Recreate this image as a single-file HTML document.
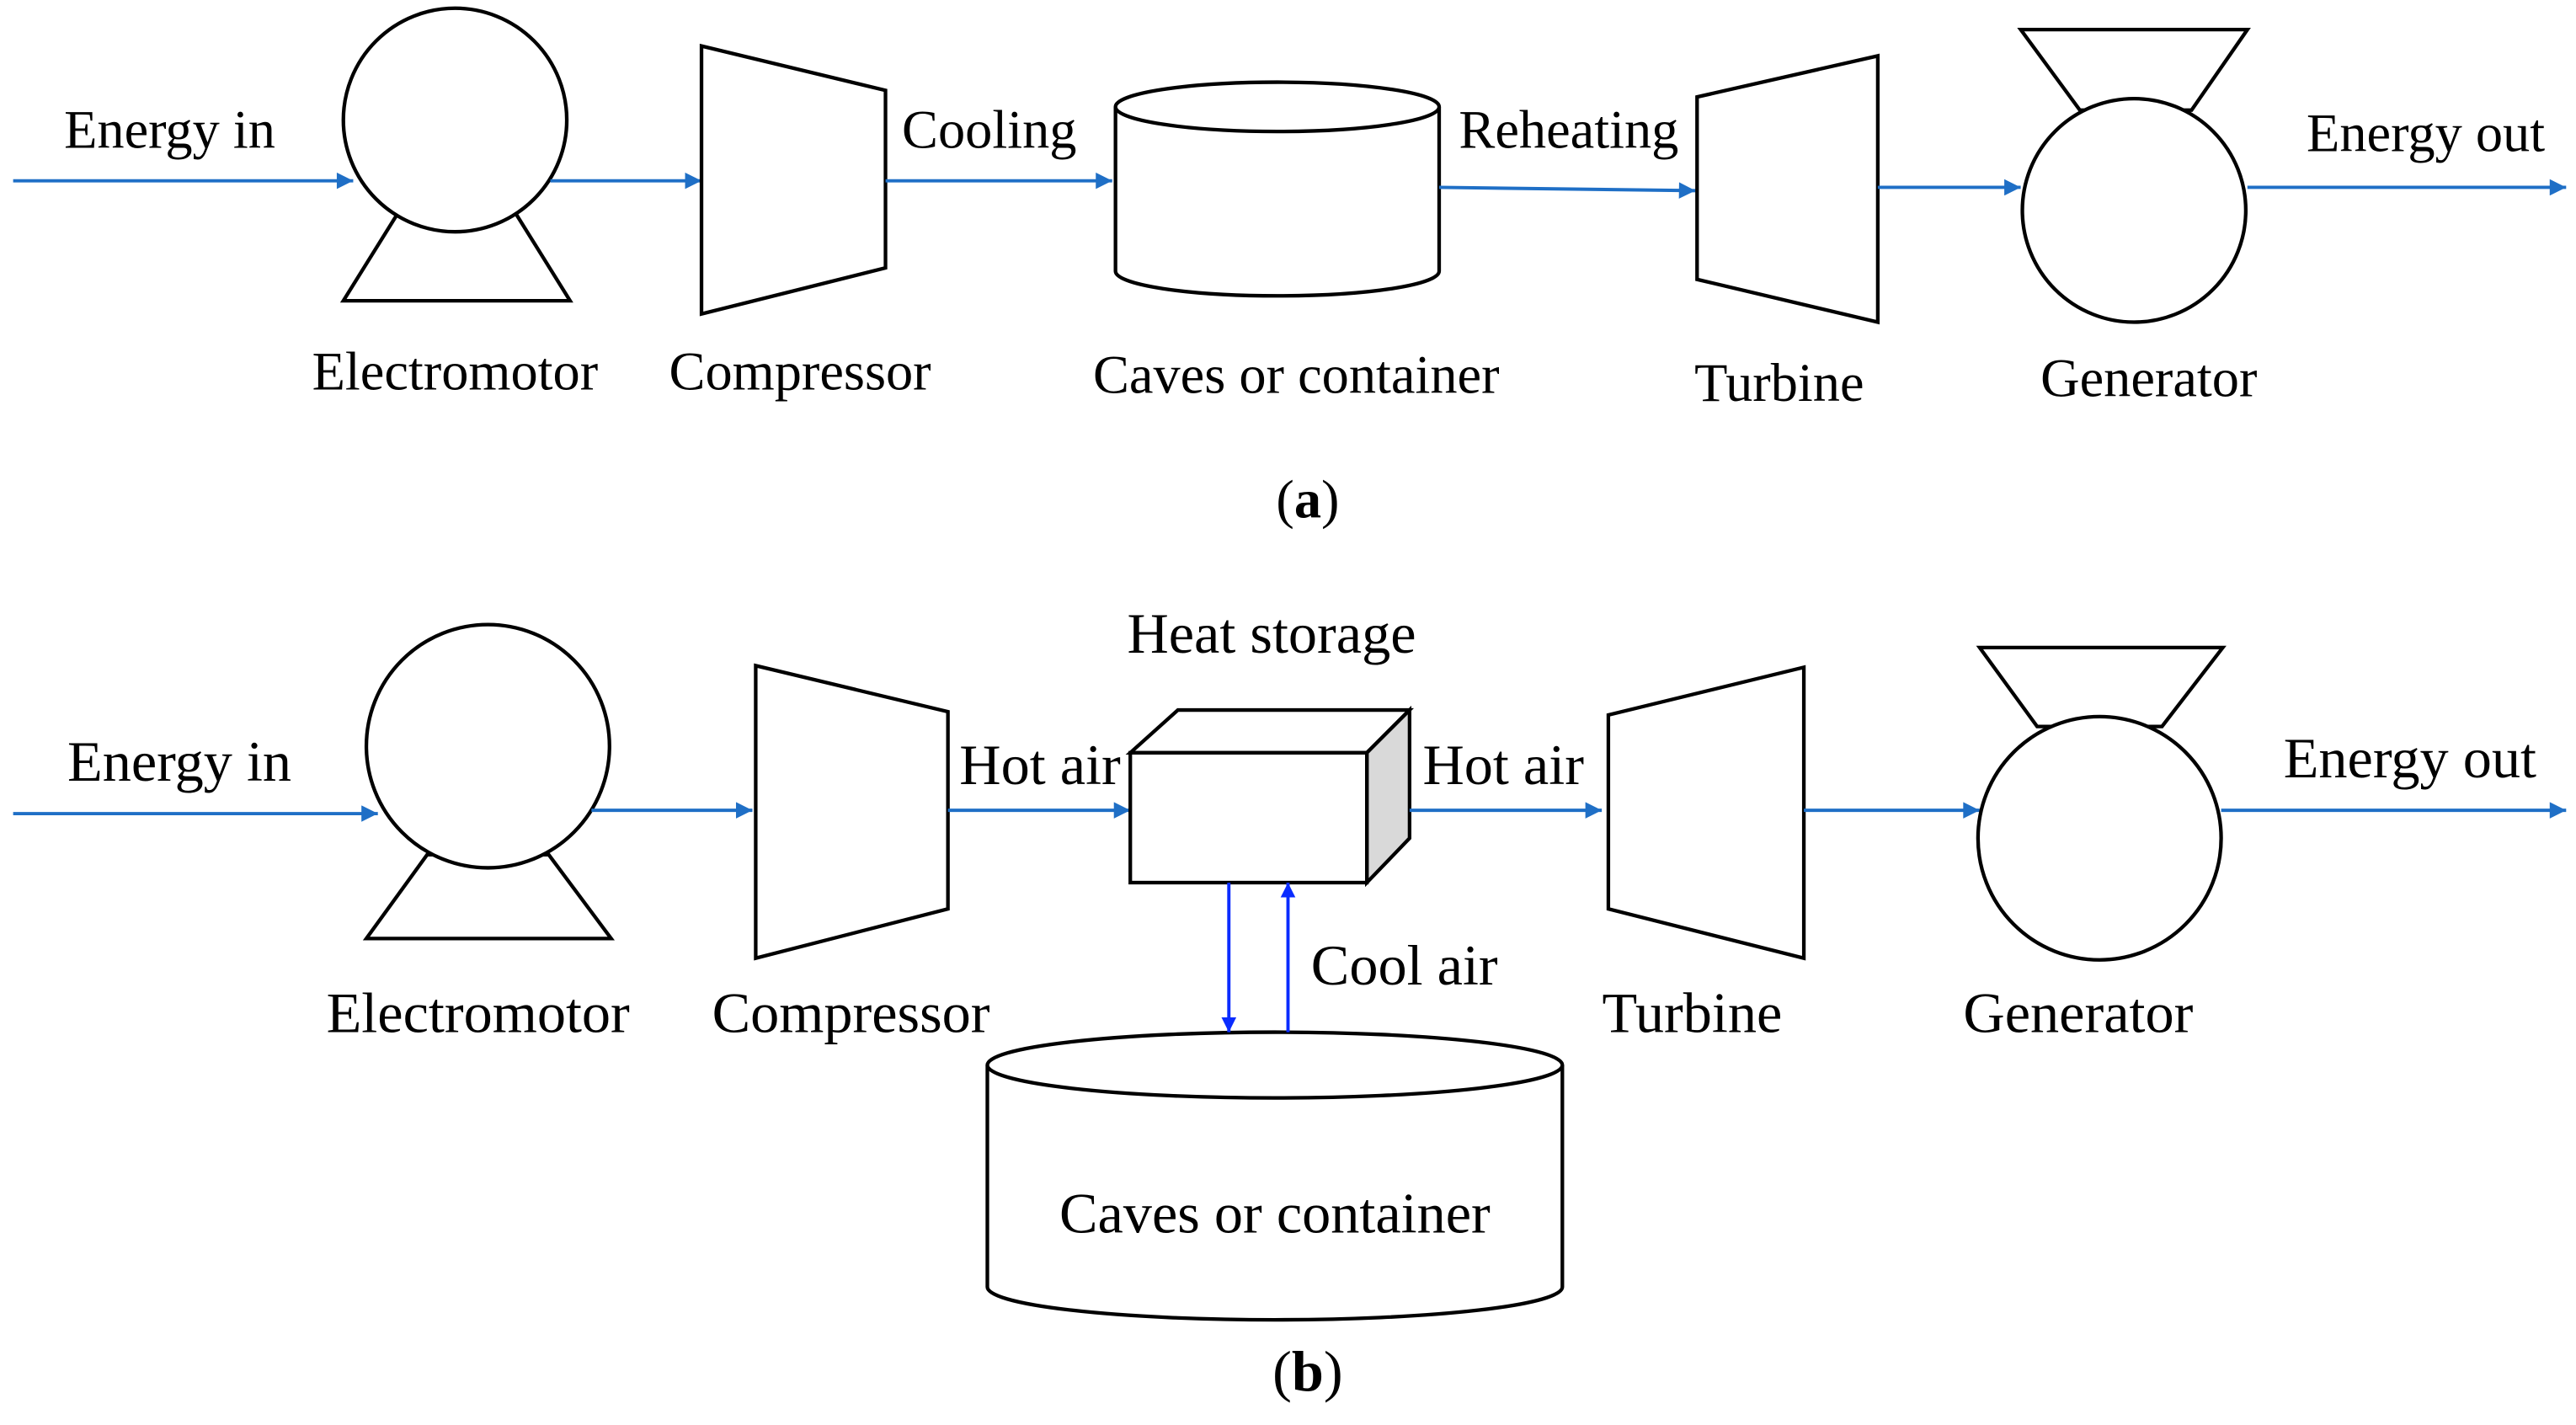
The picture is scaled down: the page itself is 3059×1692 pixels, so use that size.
<!DOCTYPE html>
<html><head><meta charset="utf-8"><style>html,body{margin:0;padding:0;background:#fff}svg{display:block}</style></head>
<body>
<svg width="3059" height="1692" viewBox="0 0 1568 867" preserveAspectRatio="none" xmlns="http://www.w3.org/2000/svg" font-family="'Liberation Serif', 'Times New Roman', serif" font-size="33">
<defs>
<marker id="ab" viewBox="0 0 10 10" refX="10" refY="5" markerWidth="11" markerHeight="10" orient="auto" markerUnits="userSpaceOnUse"><path d="M0,0L10,5L0,10z" fill="#1f6fc6"/></marker>
<marker id="ab2" viewBox="0 0 10 10" refX="10" refY="5" markerWidth="12" markerHeight="9" orient="auto" markerUnits="userSpaceOnUse"><path d="M0,0L10,5L0,10z" fill="#0a2cff"/></marker>
</defs>
<style>
.s{fill:#fff;stroke:#000;stroke-width:2.2}
.a{stroke:#1f6fc6;stroke-width:2;fill:none}
.b{stroke:#0a2cff;stroke-width:2;fill:none}
</style>
<g fill="#000">
<!-- (a) -->
<line class="a" x1="8" y1="110" x2="215" y2="110" marker-end="url(#ab)"/>
<text x="39" y="90">Energy in</text>
<polygon class="s" points="242,130 314,130 347,183 209,183"/>
<circle class="s" cx="277" cy="73" r="68"/>
<text x="277" y="237" text-anchor="middle">Electromotor</text>
<line class="a" x1="335" y1="110" x2="427" y2="110" marker-end="url(#ab)"/>
<polygon class="s" points="427,28 539,55 539,163 427,191"/>
<text x="487" y="237" text-anchor="middle">Compressor</text>
<line class="a" x1="539" y1="110" x2="677" y2="110" marker-end="url(#ab)"/>
<text x="549" y="90">Cooling</text>
<path class="s" d="M679,65 L679,165 A98.5,15 0 0 0 876,165 L876,65"/>
<ellipse class="s" cx="777.5" cy="65" rx="98.5" ry="15"/>
<text x="789" y="239" text-anchor="middle">Caves or container</text>
<line class="a" x1="876" y1="114" x2="1032" y2="116" marker-end="url(#ab)"/>
<text x="888" y="90">Reheating</text>
<polygon class="s" points="1033,59 1143,34 1143,196 1033,170"/>
<text x="1083" y="244" text-anchor="middle">Turbine</text>
<line class="a" x1="1143" y1="114" x2="1230" y2="114" marker-end="url(#ab)"/>
<polygon class="s" points="1230,18 1368,18 1334,67 1266,67"/>
<circle class="s" cx="1299" cy="128" r="68"/>
<text x="1308" y="241" text-anchor="middle">Generator</text>
<line class="a" x1="1368" y1="114" x2="1562" y2="114" marker-end="url(#ab)"/>
<text x="1404" y="92">Energy out</text>
<text x="796" y="315" text-anchor="middle">(<tspan font-weight="bold">a</tspan>)</text>
<!-- (b) -->
<g font-size="35">
<line class="a" x1="8" y1="495" x2="230" y2="495" marker-end="url(#ab)"/>
<text x="41" y="475">Energy in</text>
<polygon class="s" points="260,520 334,520 372,571 223,571"/>
<circle class="s" cx="297" cy="454" r="74"/>
<text x="291" y="628" text-anchor="middle">Electromotor</text>
<line class="a" x1="360" y1="493" x2="458" y2="493" marker-end="url(#ab)"/>
<polygon class="s" points="460,405 577,433 577,553 460,583"/>
<text x="518" y="628" text-anchor="middle">Compressor</text>
<line class="a" x1="577" y1="493" x2="688" y2="493" marker-end="url(#ab)"/>
<text x="584" y="477">Hot air</text>
<polygon class="s" points="688,458 717,432 858,432 832,458"/>
<polygon class="s" points="832,458 858,432 858,510 832,537" style="fill:#d9d9d9"/>
<rect class="s" x="688" y="458" width="144" height="79"/>
<text x="774" y="397" text-anchor="middle">Heat storage</text>
<line class="a" x1="858" y1="493" x2="975" y2="493" marker-end="url(#ab)"/>
<text x="866" y="477">Hot air</text>
<polygon class="s" points="979,435 1098,406 1098,583 979,553"/>
<text x="1030" y="628" text-anchor="middle">Turbine</text>
<line class="a" x1="1098" y1="493" x2="1205" y2="493" marker-end="url(#ab)"/>
<polygon class="s" points="1205,394 1353,394 1316,442 1240,442"/>
<circle class="s" cx="1278" cy="510" r="74"/>
<text x="1265" y="628" text-anchor="middle">Generator</text>
<line class="a" x1="1352" y1="493" x2="1562" y2="493" marker-end="url(#ab)"/>
<text x="1390" y="473">Energy out</text>
<path class="s" d="M601,648 L601,783 A175,20 0 0 0 951,783 L951,648"/>
<ellipse class="s" cx="776" cy="648" rx="175" ry="20"/>
<line class="b" x1="748" y1="537" x2="748" y2="628" marker-end="url(#ab2)"/>
<line class="b" x1="784" y1="628" x2="784" y2="537" marker-end="url(#ab2)"/>
<text x="798" y="599">Cool air</text>
<text x="776" y="750" text-anchor="middle">Caves or container</text>
<text x="796" y="846" text-anchor="middle">(<tspan font-weight="bold">b</tspan>)</text>
</g>
</g>
</svg>
</body></html>
